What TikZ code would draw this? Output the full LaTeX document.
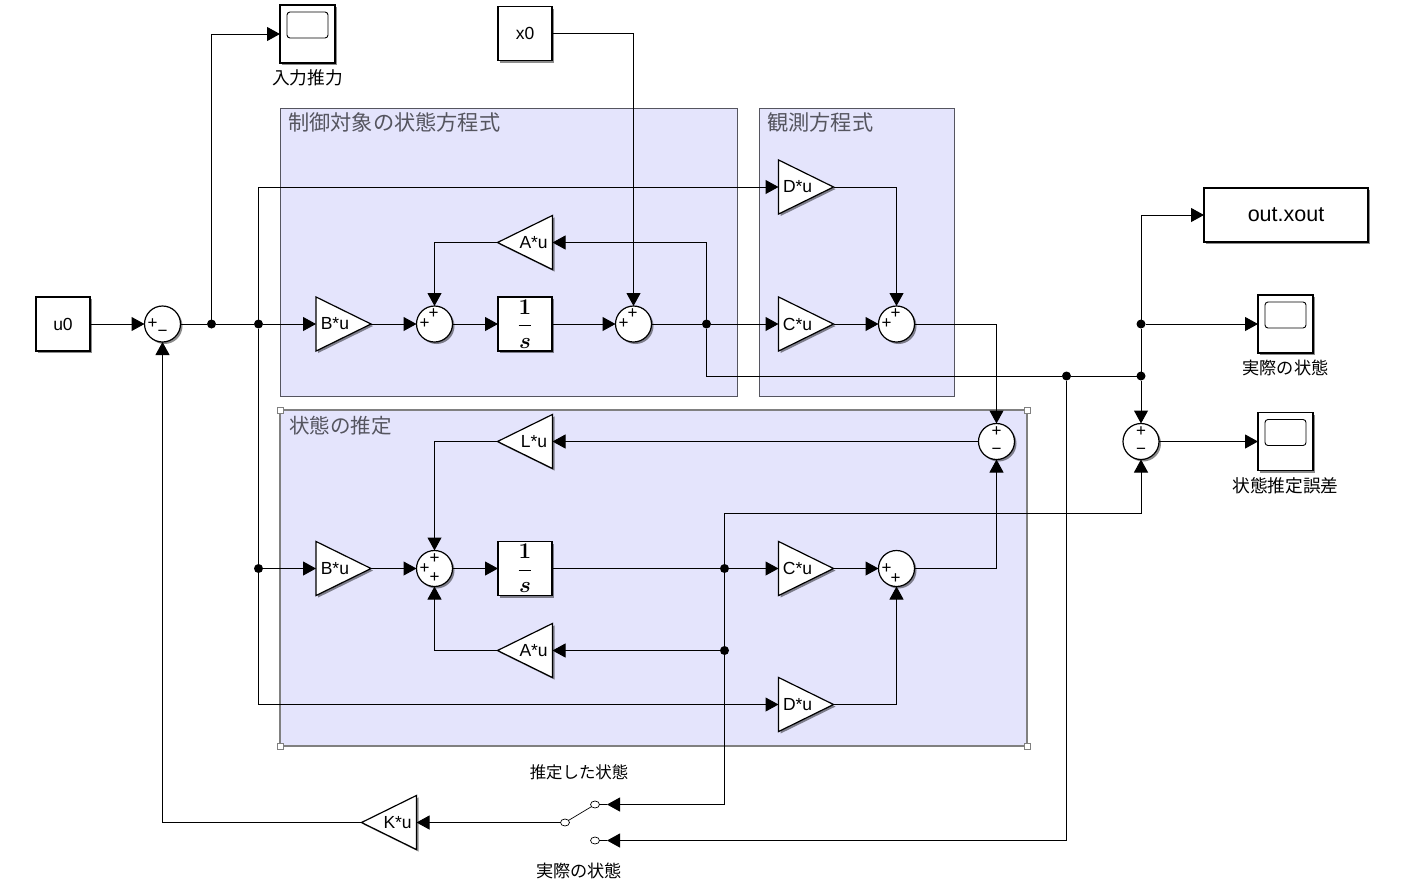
\documentclass[tikz,border=0pt]{standalone}
\usepackage{graphicx}
\usepackage{fontspec}
\setmainfont{Liberation Sans}
\newfontfamily\jpfont{Noto Sans CJK JP}
\usetikzlibrary{arrows.meta,positioning,shapes.geometric,shadows}
\definecolor{groupfill}{RGB}{228,228,252}
\definecolor{titlegray}{RGB}{85,85,95}
\newcommand{\intgl}{\scalebox{1.3}{\boldmath$\displaystyle\frac{1}{s}$}}

\tikzset{
	blkshadow/.style={drop shadow={shadow xshift=2pt,shadow yshift=-2pt,opacity=.45,fill=black}},
	block/.style={draw,fill=white,line width=1.2pt,blkshadow,minimum width=54pt,minimum height=54pt,inner sep=0pt,outer sep=0pt,font=\fontsize{17.5}{19}\selectfont},
	scopeblk/.style={block,minimum width=55pt,minimum height=58pt},
	screenbox/.style={draw,rounded corners=3pt,line width=.9pt,minimum width=41pt,minimum height=26pt,inner sep=0pt,outer sep=0pt},
	gainR/.style={draw,fill=white,line width=1.2pt,blkshadow,isosceles triangle,isosceles triangle apex angle=52.4,isosceles triangle stretches=false,minimum height=55pt,inner xsep=1pt,inner ysep=0pt,outer sep=0pt,anchor=lower side,font=\fontsize{17.5}{19}\selectfont},
	gainL/.style={gainR,shape border rotate=180},
	sumblk/.style={draw,circle,fill=white,line width=1.2pt,blkshadow,minimum size=36pt,inner sep=0pt,outer sep=0pt},
	sgn/.style={font=\fontsize{17}{17}\selectfont,inner sep=0pt,outer sep=0pt},
	plusat/.style 2 args={label={[sgn,shift={(#1,#2)}]center:+}},
	minusat/.style 2 args={label={[sgn,shift={(#1,#2)}]center:−}},
	dot/.style={circle,fill=black,minimum size=9pt,inner sep=0pt,outer sep=0pt},
	port/.style={draw,ellipse,fill=white,line width=.7pt,minimum width=9pt,minimum height=7pt,inner sep=0pt,outer sep=0pt},
	group/.style={draw=titlegray,fill=groupfill,line width=.9pt,inner sep=0pt,outer sep=0pt,anchor=north west},
	grouptitle/.style={text=titlegray,font=\jpfont\fontsize{21.2}{23}\selectfont,anchor=west,inner sep=0pt},
	caption/.style={font=\jpfont\fontsize{17.2}{19}\selectfont,inner sep=0pt},
	handle/.style={draw=gray,fill=white,line width=.6pt,minimum size=6pt,inner sep=0pt,outer sep=0pt},
	wire/.style={line width=1pt,-{Triangle[length=13pt,width=14pt]}},
	line/.style={line width=1pt},
}

\begin{document}
\begin{tikzpicture}[x=1pt,y=-1pt]
	\useasboundingbox (0,0) rectangle (1415,895);

	% groups
	\node[group,minimum width=457pt,minimum height=288pt] (plant) at (280,108) {};
	\node[group,minimum width=195pt,minimum height=288pt] (obs) at (759,108) {};
	\node[group,draw=gray,line width=1.6pt,minimum width=747pt,minimum height=336pt] (est) at (280,410) {};
	\node[handle] (h1) at (280,410) {};
	\node[handle] (h2) at (1027,410) {};
	\node[handle] (h3) at (280,746) {};
	\node[handle] (h4) at (1027,746) {};
	\node[grouptitle] (tplant) at (288,122.5) {制御対象の状態方程式};
	\node[grouptitle] (tobs) at (767,122.5) {観測方程式};
	\node[grouptitle,font=\jpfont\fontsize{20.5}{22}\selectfont] (test) at (289,425.5) {状態の推定};

	% sources and sinks
	\node[block] (u0) at (63,324) {u0};
	\node[block] (x0) at (525,33.5) {x0};
	\node[block,minimum width=164pt,font=\fontsize{21.5}{23}\selectfont] (out) at (1286,215) {out.xout};
	\node[scopeblk] (scope1) at (307.5,34) {};
	\node[scopeblk] (scope2) at (1285.5,324) {};
	\node[scopeblk] (scope3) at (1285.5,441.5) {};
	\foreach \n in {1,2,3}
		\node[screenbox,below=7pt of scope\n.north] (screen\n) {};
	\node[caption,font=\jpfont\fontsize{17.7}{19}\selectfont,below=6.5pt of scope1] (cap1) {入力推力};
	\node[caption,below=6.5pt of scope2] (cap2) {実際の状態};
	\node[caption,font=\jpfont\fontsize{17.7}{19}\selectfont,below=6.5pt of scope3] (cap3) {状態推定誤差};

	% plant
	\node[sumblk,plusat={-10}{0},minusat={0}{9}] (s1) at (162.5,324) {};
	\node[gainR] (b1) at (316,324) {B*u};
	\node[sumblk,plusat={-10}{0},plusat={-1}{-10}] (s2) at (434.5,324) {};
	\node[block] (int1) at (525,324) {\intgl};
	\node[sumblk,plusat={-10}{0},plusat={-1}{-10}] (s3) at (633.5,324) {};
	\node[gainL] (a1) at (552.5,242.5) {A*u};
	\node[gainR] (d1) at (778.5,187) {D*u};
	\node[gainR] (c1) at (778.5,324) {C*u};
	\node[sumblk,plusat={-10}{0},plusat={-1}{-10}] (s5) at (896.5,324) {};

	% estimator
	\node[sumblk,plusat={0}{-9.5},minusat={0}{9.5}] (s4) at (996.5,441.5) {};
	\node[gainL] (l1) at (552.5,441.5) {L*u};
	\node[gainR] (b2) at (316,568.5) {B*u};
	\node[sumblk,plusat={-10}{0},plusat={0}{-9.5},plusat={0}{9.5}] (s7) at (434.5,568.5) {};
	\node[block] (int2) at (525,568.5) {\intgl};
	\node[gainR] (c2) at (778.5,568.5) {C*u};
	\node[sumblk,plusat={-10}{0},plusat={-1}{10.5}] (s8) at (896.5,568.5) {};
	\node[gainL] (a2) at (552.5,650.5) {A*u};
	\node[gainR] (d2) at (778.5,704.5) {D*u};

	% error and switch
	\node[sumblk,plusat={0}{-9.5},minusat={0}{9.5}] (s6) at (1141,441.5) {};
	\node[gainL] (k1) at (416.5,822.5) {K*u};
	\node[port] (swa) at (595,804.5) {};
	\node[port] (swb) at (595,840.5) {};
	\node[port] (swc) at (565,822.5) {};
	\coordinate (pa) at (607,804.5);
	\coordinate (pb) at (607,840.5);
	\node[caption,font=\jpfont\fontsize{16.4}{18}\selectfont] (capa) at (579,772.5) {推定した状態};
	\node[caption] (capb) at (579,870.5) {実際の状態};

	% branch points
	\node[dot] (j1) at (211.5,324) {};
	\node[dot] (j2) at (258.5,324) {};
	\node[dot] (j3) at (258.5,568.5) {};
	\node[dot] (j6) at (706.5,324) {};
	\node[dot] (j7) at (1066.5,376) {};
	\node[dot] (j8) at (1141,376) {};
	\node[dot] (j9) at (1141,324) {};
	\node[dot] (j10) at (724.5,568.5) {};
	\node[dot] (j11) at (724.5,650.5) {};

	% wires
	\draw[wire] (u0) -- (s1);
	\draw[line] (s1) -- (j1);
	\draw[line] (j1) -- (j2);
	\draw[wire] (j1) |- (scope1);
	\draw[wire] (j2) -- (b1.lower side);
	\draw[wire] (j2) |- (d1.lower side);
	\draw[line] (j2) -- (j3);
	\draw[wire] (j3) -- (b2.lower side);
	\draw[wire] (j3) |- (d2.lower side);
	\draw[wire] (b1.apex) -- (s2);
	\draw[wire] (s2) -- (int1);
	\draw[wire] (int1) -- (s3);
	\draw[wire] (x0) -| (s3);
	\draw[line] (s3) -- (j6);
	\draw[wire] (j6) -- (c1.lower side);
	\draw[wire] (j6) |- (a1.lower side);
	\draw[wire] (a1.apex) -| (s2);
	\draw[wire] (c1.apex) -- (s5);
	\draw[wire] (d1.apex) -| (s5);
	\draw[wire] (s5) -| (s4);
	\draw[line] (j6) |- (j7);
	\draw[line] (j7) -- (j8);
	\draw[line] (j8) -- (j9);
	\draw[wire] (j9) |- (out);
	\draw[wire] (j9) -- (scope2);
	\draw[wire] (j8) -- (s6);
	\draw[wire] (s6) -- (scope3);
	\draw[wire] (s4) -- (l1.lower side);
	\draw[wire] (l1.apex) -| (s7);
	\draw[wire] (b2.apex) -- (s7);
	\draw[wire] (s7) -- (int2);
	\draw[line] (int2) -- (j10);
	\draw[wire] (j10) -- (c2.lower side);
	\draw[wire] (c2.apex) -- (s8);
	\draw[wire] (d2.apex) -| (s8);
	\draw[wire] (s8) -| (s4);
	\draw[line] (j10) -- (j11);
	\draw[wire] (j11) -- (a2.lower side);
	\draw[wire] (a2.apex) -| (s7);
	\draw[wire] (j10) -- ++(0,-55.5) -| (s6);
	\draw[wire] (j11) |- (pa);
	\draw[wire] (j7) |- (pb);
	\draw[line] (pa) -- (swa);
	\draw[line] (pb) -- (swb);
	\draw[line,line width=.7pt] (swc) -- (swa);
	\draw[wire] (swc) -- (k1.lower side);
	\draw[wire] (k1.apex) -| (s1);
\end{tikzpicture}
\end{document}
